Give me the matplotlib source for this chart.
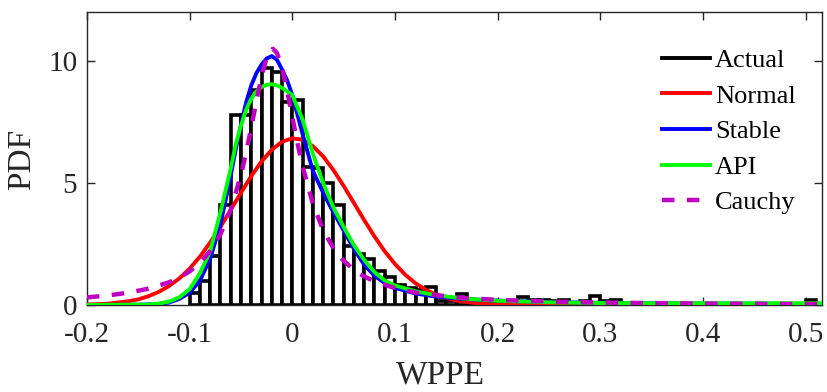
import matplotlib.pyplot as plt
from matplotlib.lines import Line2D

# histogram of actual WPPE (bin width 0.01, left edges)
bin_left = [-0.10, -0.09, -0.08, -0.07, -0.06, -0.05, -0.04, -0.03, -0.02, -0.01,
            0.00, 0.01, 0.02, 0.03, 0.04, 0.05, 0.06, 0.07, 0.08, 0.09,
            0.10, 0.11, 0.12, 0.13, 0.14, 0.15, 0.16, 0.17, 0.18, 0.19,
            0.20, 0.21, 0.22, 0.23, 0.24, 0.25, 0.26, 0.27, 0.28, 0.29,
            0.30, 0.31, 0.32, 0.33, 0.34, 0.35, 0.36, 0.37, 0.38, 0.39,
            0.40, 0.41, 0.42, 0.43, 0.44, 0.45, 0.46, 0.47, 0.48, 0.49,
            0.50, 0.51]
bin_height = [0.5, 1.0, 2.0, 4.1, 7.8, 7.8, 8.8, 9.7, 9.55, 8.3,
              8.4, 5.65, 5.6, 5.0, 4.1, 2.4, 2.1, 1.9, 1.4, 1.15,
              0.8, 0.7, 0.6, 0.75, 0.15, 0.15, 0.45, 0.15, 0.15, 0.1,
              0.1, 0.15, 0.33, 0.2, 0.2, 0.15, 0.2, 0.1, 0.15, 0.35,
              0.15, 0.2, 0.0, 0.0, 0.0, 0.0, 0.0, 0.0, 0.0, 0.0,
              0.0, 0.0, 0.0, 0.0, 0.0, 0.0, 0.0, 0.0, 0.0, 0.0,
              0.2, 0.05]

# fitted pdfs
normal_x = [-0.20, -0.18, -0.16, -0.15, -0.14, -0.13, -0.12, -0.11, -0.10, -0.09,
            -0.08, -0.07, -0.06, -0.05, -0.04, -0.03, -0.02, -0.01, 0.00, 0.01,
            0.02, 0.03, 0.04, 0.05, 0.06, 0.07, 0.08, 0.09, 0.10, 0.11,
            0.12, 0.13, 0.14, 0.15, 0.16, 0.18, 0.20, 0.22, 0.25, 0.52]
normal_y = [0.02, 0.05, 0.15, 0.23, 0.36, 0.54, 0.78, 1.09, 1.49, 1.98,
            2.56, 3.2, 3.9, 4.6, 5.28, 5.88, 6.36, 6.69, 6.83, 6.77,
            6.51, 6.09, 5.53, 4.88, 4.18, 3.48, 2.81, 2.2, 1.68, 1.24,
            0.89, 0.62, 0.42, 0.28, 0.18, 0.07, 0.02, 0.01, 0.0, 0.0]

stable_x = [-0.20, -0.15, -0.13, -0.12, -0.11, -0.10, -0.09, -0.08, -0.07, -0.06,
            -0.055, -0.05, -0.045, -0.04, -0.035, -0.03, -0.025, -0.02, -0.015, -0.01,
            -0.005, 0.00, 0.01, 0.02, 0.03, 0.04, 0.05, 0.06, 0.07, 0.08,
            0.09, 0.10, 0.12, 0.14, 0.17, 0.20, 0.25, 0.30, 0.40, 0.52]
stable_y = [0.0, 0.01, 0.04, 0.1, 0.25, 0.5, 1.0, 1.9, 3.3, 5.3,
            6.4, 7.4, 8.3, 9.0, 9.5, 9.85, 10.1, 10.2, 10.05, 9.65,
            9.2, 8.6, 7.0, 5.5, 4.6, 3.8, 3.05, 2.3, 1.65, 1.2,
            0.9, 0.7, 0.47, 0.34, 0.24, 0.18, 0.12, 0.09, 0.06, 0.04]

api_x = [-0.20, -0.14, -0.13, -0.12, -0.11, -0.10, -0.09, -0.08, -0.07, -0.06,
         -0.055, -0.05, -0.045, -0.04, -0.035, -0.03, -0.025, -0.02, -0.015, -0.01,
         0.00, 0.01, 0.02, 0.03, 0.04, 0.05, 0.06, 0.07, 0.08, 0.09,
         0.10, 0.12, 0.14, 0.17, 0.20, 0.25, 0.30, 0.40, 0.52]
api_y = [0.0, 0.02, 0.06, 0.14, 0.32, 0.65, 1.3, 2.2, 3.8, 5.6,
         6.6, 7.35, 8.0, 8.45, 8.75, 8.93, 9.02, 9.05, 9.0, 8.9,
         8.6, 7.6, 6.2, 5.0, 4.0, 3.2, 2.45, 1.85, 1.35, 1.0,
         0.8, 0.56, 0.4, 0.25, 0.17, 0.11, 0.08, 0.07, 0.07]

cauchy_x = [-0.20, -0.18, -0.16, -0.14, -0.12, -0.11, -0.10, -0.09, -0.08, -0.07,
            -0.06, -0.05, -0.045, -0.04, -0.035, -0.03, -0.025, -0.019, -0.015, -0.01,
            -0.005, 0.00, 0.005, 0.01, 0.02, 0.03, 0.04, 0.05, 0.06, 0.07,
            0.08, 0.10, 0.12, 0.14, 0.17, 0.20, 0.25, 0.30, 0.35, 0.40,
            0.45, 0.52]
cauchy_y = [0.31, 0.39, 0.50, 0.67, 0.93, 1.12, 1.38, 1.73, 2.21, 2.9,
            3.9, 5.33, 6.25, 7.27, 8.35, 9.36, 10.13, 10.5, 10.33, 9.71,
            8.77, 7.7, 6.64, 5.68, 4.15, 3.07, 2.33, 1.81, 1.44, 1.17,
            0.97, 0.69, 0.51, 0.40, 0.28, 0.21, 0.14, 0.10, 0.076, 0.059,
            0.047, 0.036]

xticks = [-0.2, -0.1, 0, 0.1, 0.2, 0.3, 0.4, 0.5]
xtick_labels = ["-0.2", "-0.1", "0", "0.1", "0.2", "0.3", "0.4", "0.5"]
yticks = [0, 5, 10]

plt.rcParams["font.family"] = ["Liberation Serif", "DejaVu Serif"]

fig = plt.figure(figsize=(8.27, 3.92), dpi=100)
ax = fig.add_axes([0.1052, 0.222, 0.8888, 0.747])

ax.bar(bin_left, bin_height, width=0.01, align="edge", facecolor="white",
       edgecolor="black", linewidth=2.6, zorder=2)

ax.plot(normal_x, normal_y, color="#ff0000", lw=2.8, zorder=3)
ax.plot(stable_x, stable_y, color="#0000ff", lw=2.8, zorder=4)
ax.plot(api_x, api_y, color="#00ff00", lw=2.8, zorder=5)
ax.plot(cauchy_x, cauchy_y, color="#c000c0", lw=3.2, dashes=(2.8, 2.8), zorder=6)

ax.set_xlim(-0.2, 0.516)
ax.set_ylim(0, 12)
ax.set_xticks(xticks)
ax.set_xticklabels(xtick_labels)
ax.set_yticks(yticks)
ax.tick_params(direction="in", length=5.5, width=1, labelsize=21, colors="#262626",
               top=True, right=True, labeltop=False, labelright=False)
ax.tick_params(axis="x", pad=12)
ax.tick_params(axis="y", pad=7)
for s in ax.spines.values():
    s.set_color("#262626")
    s.set_linewidth(1)

# axis titles placed in figure coordinates
fig.text(440 / 827, 1 - 384 / 392, "WPPE", fontsize=24, color="#262626",
         ha="center", va="baseline")
fig.text(22 / 827, 1 - 159 / 392, "PDF", fontsize=24, color="#262626",
         ha="center", va="center", rotation=90)

handles = [Line2D([], [], color="black", lw=2.8),
           Line2D([], [], color="#ff0000", lw=2.8),
           Line2D([], [], color="#0000ff", lw=2.8),
           Line2D([], [], color="#00ff00", lw=2.8),
           Line2D([], [], color="#c000c0", lw=3.2, dashes=(2.8, 2.8))]
ax.legend(handles, ["Actual", "Normal", "Stable", "API", "Cauchy"], loc="upper right",
          bbox_to_anchor=(1.0, 0.966), frameon=False, fontsize=19, handlelength=1.8,
          handletextpad=0.2, labelspacing=0.46, borderaxespad=0.6)

fig.savefig("out.png", dpi=100)
